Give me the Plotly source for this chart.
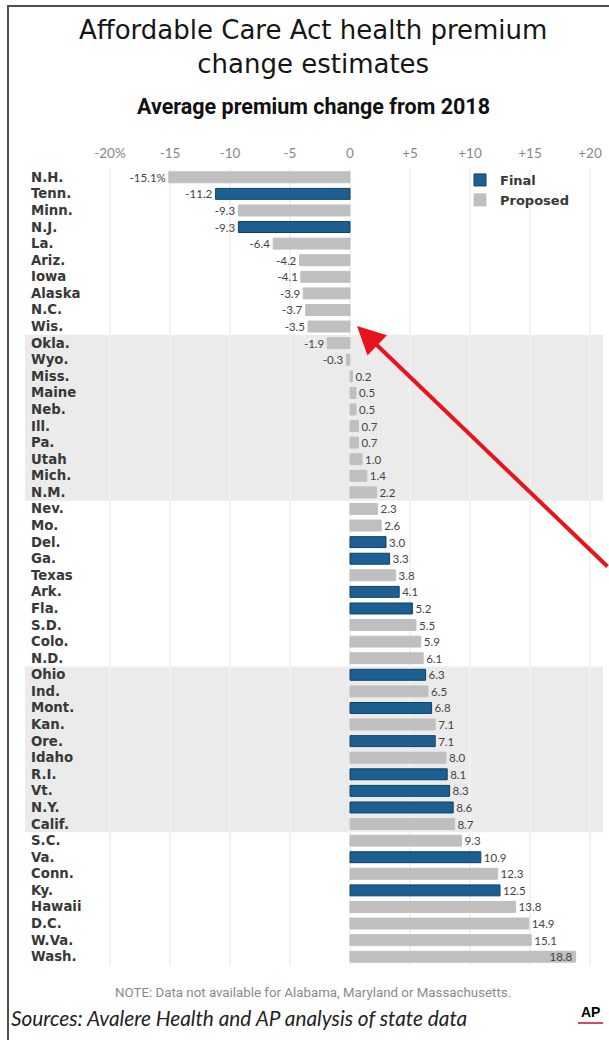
import plotly.graph_objects as go

states = ["N.H.", "Tenn.", "Minn.", "N.J.", "La.", "Ariz.", "Iowa", "Alaska", "N.C.", "Wis.",
          "Okla.", "Wyo.", "Miss.", "Maine", "Neb.", "Ill.", "Pa.", "Utah", "Mich.", "N.M.",
          "Nev.", "Mo.", "Del.", "Ga.", "Texas", "Ark.", "Fla.", "S.D.", "Colo.", "N.D.",
          "Ohio", "Ind.", "Mont.", "Kan.", "Ore.", "Idaho", "R.I.", "Vt.", "N.Y.", "Calif.",
          "S.C.", "Va.", "Conn.", "Ky.", "Hawaii", "D.C.", "W.Va.", "Wash."]
values = [-15.1, -11.2, -9.3, -9.3, -6.4, -4.2, -4.1, -3.9, -3.7, -3.5,
          -1.9, -0.3, 0.2, 0.5, 0.5, 0.7, 0.7, 1.0, 1.4, 2.2,
          2.3, 2.6, 3.0, 3.3, 3.8, 4.1, 5.2, 5.5, 5.9, 6.1,
          6.3, 6.5, 6.8, 7.1, 7.1, 8.0, 8.1, 8.3, 8.6, 8.7,
          9.3, 10.9, 12.3, 12.5, 13.8, 14.9, 15.1, 18.8]
final_states = ["Tenn.", "N.J.", "Del.", "Ga.", "Ark.", "Fla.", "Ohio", "Mont.", "Ore.",
                "R.I.", "Vt.", "N.Y.", "Va.", "Ky."]
shaded_groups = [("Okla.", "N.M."), ("Ohio", "Calif.")]
tick_values = [-20, -15, -10, -5, 0, 5, 10, 15, 20]
tick_labels = ["-20%", "-15", "-10", "-5", "0", "+5", "+10", "+15", "+20"]
inside_label_states = ["Wash."]

title_lines = ["Affordable Care Act health premium", "change estimates"]
subtitle = "Average premium change from 2018"
note = "NOTE: Data not available for Alabama, Maryland or Massachusetts."
source = "Sources: Avalere Health and AP analysis of state data"

# ---- layout geometry (pixels) ----
W, H = 609, 1040
L, R, T, B = 25, 6, 169, 75
PW, PH = W - L - R, H - T - B


def px(x):
    return (x - L) / PW


def py(y):
    return 1 - (y - T) / PH


BLUE = "#1c5f90"
GRAY = "#bfbfbf"
LABEL_FONT = dict(family="DejaVu Sans", size=13.3, color="#383838", weight="bold")
VAL_FONT = dict(family="Lato", size=11.5, color="#444444")


def fmt(i, v):
    s = f"{v:.1f}"
    return s + "%" if i == 0 else s


fig = go.Figure()
for name, color, is_final in [("Final", BLUE, True), ("Proposed", GRAY, False)]:
    idx = [i for i, s in enumerate(states) if (s in final_states) == is_final]
    fig.add_trace(go.Bar(
        name=name,
        orientation="h",
        y=[states[i] for i in idx],
        x=[values[i] for i in idx],
        width=0.66,
        marker=dict(color=color,
                    line=dict(color="#0e4168" if is_final else GRAY, width=1)),
        text=[fmt(i, values[i]) for i in idx],
        textposition=["inside" if states[i] in inside_label_states else "outside" for i in idx],
        insidetextanchor="end",
        textfont=VAL_FONT,
        outsidetextfont=VAL_FONT,
        insidetextfont=VAL_FONT,
        constraintext="none",
        cliponaxis=False,
        textangle=0,
        hoverinfo="skip",
    ))

shapes = []
for a, b in shaded_groups:
    shapes.append(dict(type="rect", xref="paper", yref="y", x0=0, x1=1,
                       y0=states.index(a) - 0.5, y1=states.index(b) + 0.5,
                       fillcolor="#ebebeb", line=dict(width=0), layer="below"))
# frame
shapes.append(dict(type="line", xref="paper", yref="paper", x0=px(8), x1=px(8),
                   y0=py(6), y1=py(1050), line=dict(color="#505050", width=2)))
shapes.append(dict(type="line", xref="paper", yref="paper", x0=px(7), x1=px(620),
                   y0=py(6), y1=py(6), line=dict(color="#505050", width=2)))
# AP underline
shapes.append(dict(type="line", xref="paper", yref="paper", x0=px(578), x1=px(603),
                   y0=py(1023), y1=py(1023), line=dict(color="#d9475f", width=2)))

ann = []
for s in states:
    ann.append(dict(text=s, xref="paper", yref="y", x=px(29), y=s, xanchor="left",
                    yanchor="middle", showarrow=False, font=LABEL_FONT))
TITLE_FONT = dict(family="DejaVu Sans", size=26, color="#151515")
ann.append(dict(text="<br>".join(title_lines), xref="paper", yref="paper", x=px(313), y=py(47),
                xanchor="center", yanchor="middle", showarrow=False, font=TITLE_FONT))
ann.append(dict(text=subtitle, xref="paper", yref="paper", x=px(313), y=py(106),
                xanchor="center", yanchor="middle", showarrow=False,
                font=dict(family="Roboto", size=21.5, color="#111111", weight="bold")))
ann.append(dict(text=note, xref="paper", yref="paper", x=px(313), y=py(992),
                xanchor="center", yanchor="middle", showarrow=False,
                font=dict(family="Roboto", size=13.3, color="#8a8a8a")))
ann.append(dict(text=source, xref="paper", yref="paper", x=px(9), y=py(1017),
                xanchor="left", yanchor="middle", showarrow=False,
                font=dict(family="Lato", size=20.8, color="#222222", style="italic")))
ann.append(dict(text="AP", xref="paper", yref="paper", x=px(590), y=py(1012),
                xanchor="center", yanchor="middle", showarrow=False,
                font=dict(family="Liberation Sans", size=14, color="#000000", weight="bold")))
# red arrow
ann.append(dict(text="", xref="paper", yref="paper", x=px(357), y=py(326),
                ax=282, ay=242, showarrow=True, arrowhead=2, arrowsize=1.4,
                arrowwidth=4, arrowcolor="#e8141b", standoff=0))

fig.update_layout(
    width=W, height=H, autosize=False,
    margin=dict(l=L, r=R, t=T, b=B),
    paper_bgcolor="white", plot_bgcolor="white",
    barmode="overlay",
    shapes=shapes, annotations=ann,
    showlegend=True,
    legend=dict(x=px(460), y=py(165), xanchor="left", yanchor="top",
                font=dict(family="DejaVu Sans", size=13, color="#383838", weight="bold"),
                bgcolor="rgba(0,0,0,0)", traceorder="normal", tracegroupgap=0),
    xaxis=dict(range=[(L - 350) / 12, (W - R - 350) / 12], side="top",
               tickvals=tick_values, ticktext=tick_labels, ticks="",
               tickfont=dict(family="Lato", size=13.5, color="#888888"),
               showgrid=True, gridcolor="#f1f1f1", gridwidth=1.5, zeroline=False,
               showline=False, fixedrange=True, ticklabelstandoff=7),
    yaxis=dict(type="category", categoryorder="array", categoryarray=states,
               range=[len(states) - 0.5, -0.5], showticklabels=False, showgrid=False,
               zeroline=False, showline=False, fixedrange=True),
)

fig.write_html(
    "out.html",
    config={"displayModeBar": False},
    post_script="document.body.style.margin='0';document.body.style.overflow='hidden';",
)
